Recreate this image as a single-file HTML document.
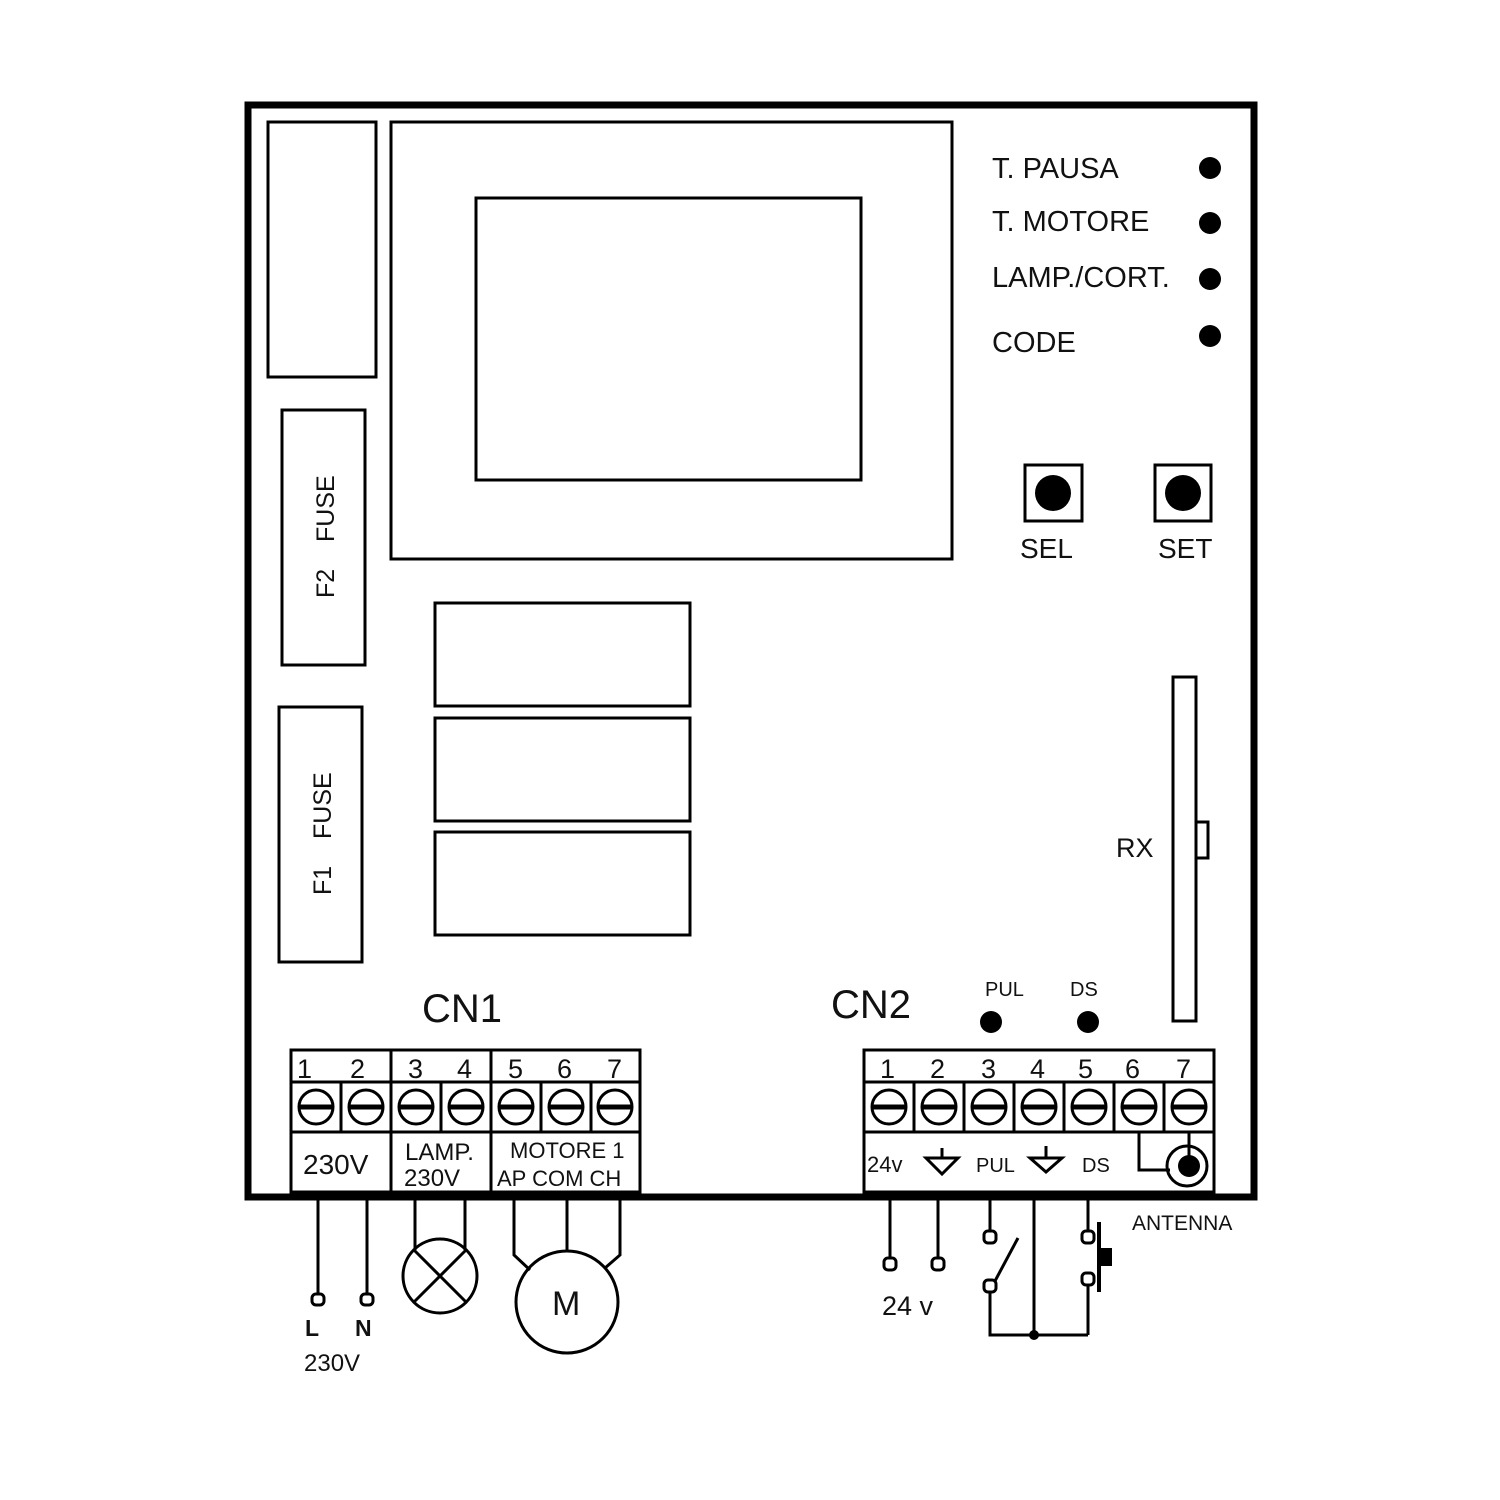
<!DOCTYPE html>
<html><head><meta charset="utf-8"><style>
html,body{margin:0;padding:0;background:#fff}
svg{display:block}
text{font-family:"Liberation Sans",sans-serif;fill:#111}
</style></head><body>
<svg width="1500" height="1500" viewBox="0 0 1500 1500" xmlns="http://www.w3.org/2000/svg">
<rect width="1500" height="1500" fill="#fff"/>
<g fill="none" stroke="#000" stroke-width="3">
<rect x="248" y="105" width="1006" height="1092" stroke-width="7"/>
<rect x="268" y="122" width="108" height="255"/>
<rect x="282" y="410" width="83" height="255"/>
<rect x="279" y="707" width="83" height="255"/>
<rect x="391" y="122" width="561" height="437"/>
<rect x="476" y="198" width="385" height="282"/>
<rect x="435" y="603" width="255" height="103"/>
<rect x="435" y="718" width="255" height="103"/>
<rect x="435" y="832" width="255" height="103"/>
<rect x="1025" y="465" width="57" height="56"/>
<rect x="1155" y="465" width="56" height="56"/>
<rect x="1173" y="677" width="23" height="344"/>
<rect x="1196" y="822" width="12" height="36"/>
</g>
<g fill="#000">
<circle cx="1210" cy="168" r="11"/><circle cx="1210" cy="223" r="11"/>
<circle cx="1210" cy="279" r="11"/><circle cx="1210" cy="336" r="11"/>
<circle cx="1053" cy="493" r="18"/><circle cx="1183" cy="493" r="18"/>
<circle cx="991" cy="1022" r="11"/><circle cx="1088" cy="1022" r="11"/>
</g>
<g font-size="29">
<text x="992" y="178">T. PAUSA</text>
<text x="992" y="231">T. MOTORE</text>
<text x="992" y="287">LAMP./CORT.</text>
<text x="992" y="352">CODE</text>
</g>
<text x="1020" y="558" font-size="28">SEL</text>
<text x="1158" y="558" font-size="28">SET</text>
<text x="1116" y="857" font-size="27">RX</text>
<text transform="translate(334,598) rotate(-90)" font-size="25">F2</text>
<text transform="translate(334,542) rotate(-90)" font-size="25">FUSE</text>
<text transform="translate(331,895) rotate(-90)" font-size="25">F1</text>
<text transform="translate(331,839) rotate(-90)" font-size="25">FUSE</text>
<text x="422" y="1022" font-size="40">CN1</text>
<text x="831" y="1018" font-size="40">CN2</text>
<text x="985" y="996" font-size="20">PUL</text>
<text x="1070" y="996" font-size="20">DS</text>

<!-- CN1 -->
<g fill="none" stroke="#000" stroke-width="3">
<rect x="291" y="1050" width="349" height="142"/>
<line x1="291" y1="1082" x2="640" y2="1082"/>
<line x1="291" y1="1132" x2="640" y2="1132"/>
<line x1="391" y1="1050" x2="391" y2="1192"/>
<line x1="491" y1="1050" x2="491" y2="1192"/>
<line x1="341" y1="1082" x2="341" y2="1132"/>
<line x1="441" y1="1082" x2="441" y2="1132"/>
<line x1="541" y1="1082" x2="541" y2="1132"/>
<line x1="591" y1="1082" x2="591" y2="1132"/>
</g>
<g fill="none" stroke="#000" stroke-width="3">
<circle cx="316" cy="1107" r="17"/><circle cx="366" cy="1107" r="17"/><circle cx="416" cy="1107" r="17"/><circle cx="466" cy="1107" r="17"/><circle cx="516" cy="1107" r="17"/><circle cx="566" cy="1107" r="17"/><circle cx="615" cy="1107" r="17"/>
</g>
<g stroke="#000" stroke-width="5">
<line x1="299" y1="1107" x2="333" y2="1107"/><line x1="349" y1="1107" x2="383" y2="1107"/><line x1="399" y1="1107" x2="433" y2="1107"/><line x1="449" y1="1107" x2="483" y2="1107"/><line x1="499" y1="1107" x2="533" y2="1107"/><line x1="549" y1="1107" x2="583" y2="1107"/><line x1="598" y1="1107" x2="632" y2="1107"/>
</g>
<g font-size="27">
<text x="297" y="1078">1</text><text x="350" y="1078">2</text><text x="408" y="1078">3</text><text x="457" y="1078">4</text><text x="508" y="1078">5</text><text x="557" y="1078">6</text><text x="607" y="1078">7</text>
</g>
<text x="303" y="1174" font-size="28">230V</text>
<text x="405" y="1160" font-size="24">LAMP.</text>
<text x="404" y="1186" font-size="24">230V</text>
<text x="510" y="1158" font-size="22">MOTORE 1</text>
<text x="497" y="1186" font-size="22">AP COM CH</text>

<!-- CN2 -->
<g fill="none" stroke="#000" stroke-width="3">
<rect x="864" y="1050" width="350" height="142"/>
<line x1="864" y1="1082" x2="1214" y2="1082"/>
<line x1="864" y1="1132" x2="1214" y2="1132"/>
<line x1="914" y1="1082" x2="914" y2="1132"/><line x1="964" y1="1082" x2="964" y2="1132"/><line x1="1014" y1="1082" x2="1014" y2="1132"/><line x1="1064" y1="1082" x2="1064" y2="1132"/><line x1="1114" y1="1082" x2="1114" y2="1132"/><line x1="1164" y1="1082" x2="1164" y2="1132"/>
<circle cx="889" cy="1107" r="17"/><circle cx="939" cy="1107" r="17"/><circle cx="989" cy="1107" r="17"/><circle cx="1039" cy="1107" r="17"/><circle cx="1089" cy="1107" r="17"/><circle cx="1139" cy="1107" r="17"/><circle cx="1189" cy="1107" r="17"/>
<polyline points="1139,1132 1139,1170 1170,1170"/>
<line x1="1189" y1="1132" x2="1189" y2="1160"/>
<circle cx="1187" cy="1166" r="20"/>
<path d="M926 1158 H958 L942 1174 Z M942 1158 V1148"/>
<path d="M1030 1158 H1062 L1046 1172 Z M1046 1158 V1146"/>
</g>
<circle cx="1189" cy="1166" r="11" fill="#000"/>
<g stroke="#000" stroke-width="5">
<line x1="872" y1="1107" x2="906" y2="1107"/><line x1="922" y1="1107" x2="956" y2="1107"/><line x1="972" y1="1107" x2="1006" y2="1107"/><line x1="1022" y1="1107" x2="1056" y2="1107"/><line x1="1072" y1="1107" x2="1106" y2="1107"/><line x1="1122" y1="1107" x2="1156" y2="1107"/><line x1="1172" y1="1107" x2="1206" y2="1107"/>
</g>
<g font-size="27">
<text x="880" y="1078">1</text><text x="930" y="1078">2</text><text x="981" y="1078">3</text><text x="1030" y="1078">4</text><text x="1078" y="1078">5</text><text x="1125" y="1078">6</text><text x="1176" y="1078">7</text>
</g>
<text x="867" y="1172" font-size="22">24v</text>
<text x="976" y="1172" font-size="20">PUL</text>
<text x="1082" y="1172" font-size="20">DS</text>
<text x="1132" y="1230" font-size="21">ANTENNA</text>

<!-- external wiring -->
<g fill="none" stroke="#000" stroke-width="3">
<line x1="318" y1="1197" x2="318" y2="1294"/><line x1="367" y1="1197" x2="367" y2="1294"/>
<rect x="312" y="1294" width="12" height="11" rx="4"/><rect x="361" y="1294" width="12" height="11" rx="4"/>
<line x1="415" y1="1197" x2="415" y2="1250"/><line x1="465" y1="1197" x2="465" y2="1250"/>
<circle cx="440" cy="1276" r="37"/>
<line x1="414" y1="1250" x2="466" y2="1302"/><line x1="466" y1="1250" x2="414" y2="1302"/>
<polyline points="514,1197 514,1255 530,1270"/>
<line x1="567" y1="1197" x2="567" y2="1251"/>
<polyline points="620,1197 620,1255 605,1268"/>
<circle cx="567" cy="1302" r="51"/>
<line x1="890" y1="1197" x2="890" y2="1258"/><line x1="938" y1="1197" x2="938" y2="1258"/>
<rect x="884" y="1258" width="12" height="12" rx="4"/><rect x="932" y="1258" width="12" height="12" rx="4"/>
<line x1="990" y1="1197" x2="990" y2="1231"/>
<rect x="984" y="1231" width="12" height="12" rx="4"/>
<rect x="984" y="1280" width="12" height="12" rx="4"/>
<line x1="995" y1="1281" x2="1018" y2="1238"/>
<polyline points="990,1292 990,1335 1088,1335"/>
<line x1="1034" y1="1197" x2="1034" y2="1335"/>
<line x1="1088" y1="1197" x2="1088" y2="1231"/>
<rect x="1082" y="1231" width="12" height="12" rx="4"/>
<rect x="1082" y="1273" width="12" height="12" rx="4"/>
<line x1="1088" y1="1285" x2="1088" y2="1335"/>
<line x1="1099" y1="1222" x2="1099" y2="1292" stroke-width="4"/>
</g>
<rect x="1099" y="1248" width="13" height="18" fill="#000"/>
<circle cx="1034" cy="1335" r="5" fill="#000"/>
<text x="305" y="1336" font-size="23" font-weight="bold">L</text>
<text x="355" y="1336" font-size="23" font-weight="bold">N</text>
<text x="304" y="1371" font-size="24">230V</text>
<text x="552" y="1315" font-size="34">M</text>
<text x="882" y="1315" font-size="27">24 v</text>
</svg>
</body></html>
